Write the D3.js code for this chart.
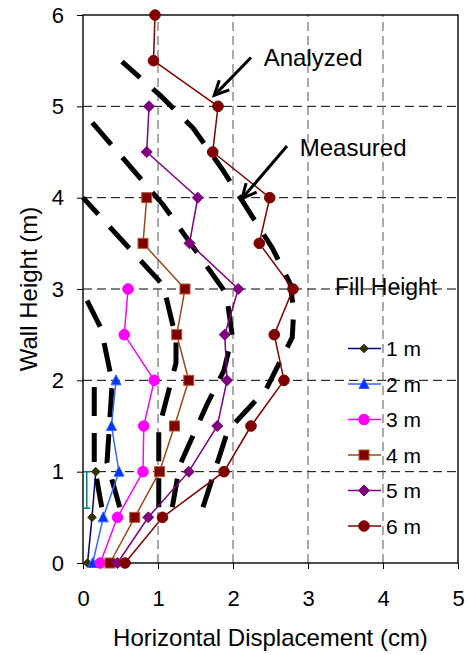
<!DOCTYPE html>
<html>
<head>
<meta charset="utf-8">
<script src="https://cdn.jsdelivr.net/npm/d3@7"></script>
<style>
  html, body { margin: 0; padding: 0; background: #fff; }
  svg { display: block; font-family: 'Liberation Sans', Arial, sans-serif; }
</style>
</head>
<body>
<div id="chart"></div>
<script>
// wall heights (m) where analyzed displacements are reported
const heights = [0, 0.5, 1, 1.5, 2, 2.5, 3, 3.5, 4, 4.5, 5, 5.5, 6];

// analyzed horizontal displacement (cm), one array per fill height
const analyzed1 = [0.06, 0.12, 0.17];
const analyzed2 = [0.13, 0.27, 0.48, 0.38, 0.44];
const analyzed3 = [0.23, 0.46, 0.80, 0.81, 0.95, 0.55, 0.60];
const analyzed4 = [0.36, 0.69, 1.02, 1.22, 1.41, 1.25, 1.36, 0.80, 0.85];
const analyzed5 = [0.46, 0.87, 1.41, 1.79, 1.92, 1.89, 2.07, 1.42, 1.53, 0.85, 0.88];
const analyzed6 = [0.56, 1.06, 1.88, 2.24, 2.68, 2.55, 2.80, 2.35, 2.49, 1.73, 1.80, 0.94, 0.96];

// measured profiles [displacement cm, height m]
const measured1 = [[0.05, 0.6], [0.05, 1.0]];
const measured2 = [[0.25, 0.61], [0.15, 1.07], [0.15, 2.0]];
const measured3 = [[0.49, 0.61], [0.32, 1.10], [0.39, 1.98], [0.24, 2.57], [0, 2.96]];
const measured4 = [[1.01, 0.61], [1.01, 1.47], [1.24, 2.19], [1.24, 2.46], [1.07, 3.04], [0, 4.0]];
const measured5 = [[1.19, 0.61], [1.29, 1.07], [1.65, 1.73], [1.88, 2.11], [1.99, 2.49],
  [1.91, 2.95], [1.07, 3.92], [0, 4.94]];
const measured6 = [[1.60, 0.61], [1.93, 1.45], [2.44, 1.90], [2.79, 2.47], [2.81, 2.77],
  [2.76, 3.06], [2.53, 3.44], [1.85, 4.32], [1.47, 4.76], [1.03, 5.12], [0.52, 5.49]];

const fillLabels = ['1 m', '2 m', '3 m', '4 m', '5 m', '6 m'];
const xTicks = [0, 1, 2, 3, 4, 5];
const yTicks = [0, 1, 2, 3, 4, 5, 6];

const width = 467;
const height = 655;
const margin = { top: 15, right: 9, bottom: 92, left: 83 };

const series = [
  { name: fillLabels[0], values: analyzed1, line: '#000080', fill: '#333300', stroke: '#333300', shape: 'diamondSmall' },
  { name: fillLabels[1], values: analyzed2, line: '#3366FF', fill: '#0033FF', stroke: '#3366FF', shape: 'triangle' },
  { name: fillLabels[2], values: analyzed3, line: '#FF00FF', fill: '#FF00FF', stroke: '#FF00FF', shape: 'circle' },
  { name: fillLabels[3], values: analyzed4, line: '#A0471A', fill: '#800000', stroke: '#B05A2A', shape: 'square' },
  { name: fillLabels[4], values: analyzed5, line: '#800080', fill: '#800080', stroke: '#800080', shape: 'diamond' },
  { name: fillLabels[5], values: analyzed6, line: '#800000', fill: '#800000', stroke: '#800000', shape: 'circle' }
];

const svg = d3.select('#chart')
  .append('svg')
  .attr('width', width)
  .attr('height', height);

/* Scales */
const xScale = d3.scaleLinear()
  .domain([0, 5])
  .range([margin.left, width - margin.right]);

const yScale = d3.scaleLinear()
  .domain([0, 6])
  .range([height - margin.bottom, margin.top]);

/* Grid lines */
svg.append('g')
  .selectAll('line')
  .data(yTicks.slice(1, -1))
  .enter()
  .append('line')
  .attr('x1', xScale(0))
  .attr('x2', xScale(5))
  .attr('y1', d => yScale(d))
  .attr('y2', d => yScale(d))
  .attr('stroke', '#000')
  .attr('stroke-width', 1)
  .attr('stroke-dasharray', '9,5');

svg.append('g')
  .selectAll('line')
  .data(xTicks.slice(1, -1))
  .enter()
  .append('line')
  .attr('x1', d => xScale(d))
  .attr('x2', d => xScale(d))
  .attr('y1', yScale(0))
  .attr('y2', yScale(6))
  .attr('stroke', '#555')
  .attr('stroke-width', 1)
  .attr('stroke-dasharray', '9,5');

/* Axes */
const xAxis = d3.axisBottom(xScale)
  .tickValues(xTicks)
  .tickFormat(d3.format('d'))
  .tickSize(6)
  .tickSizeOuter(0)
  .tickPadding(21);

const yAxis = d3.axisLeft(yScale)
  .tickValues(yTicks)
  .tickFormat(d3.format('d'))
  .tickSize(6)
  .tickSizeOuter(0)
  .tickPadding(13);

const gx = svg.append('g')
  .attr('transform', `translate(0, ${yScale(0)})`)
  .call(xAxis);
gx.select('.domain').remove();
gx.selectAll('text').style('font-size', '22px').attr('fill', '#000');
gx.selectAll('line').attr('stroke', '#000');

const gy = svg.append('g')
  .attr('transform', `translate(${xScale(0)}, 0)`)
  .call(yAxis);
gy.select('.domain').remove();
gy.selectAll('text').style('font-size', '22px').attr('fill', '#000');
gy.selectAll('line').attr('stroke', '#000');

/* Plot frame */
svg.append('rect')
  .attr('x', xScale(0))
  .attr('y', yScale(6))
  .attr('width', xScale(5) - xScale(0))
  .attr('height', yScale(0) - yScale(6))
  .attr('fill', 'none')
  .attr('stroke', '#000')
  .attr('stroke-width', 1.4);

/* Measured profiles (thick dashes) */
const pairLine = d3.line()
  .x(d => xScale(d[0]))
  .y(d => yScale(d[1]));

const measuredDashed = [measured2, measured3, measured4, measured5, measured6];
svg.append('g')
  .selectAll('path')
  .data(measuredDashed)
  .enter()
  .append('path')
  .attr('d', d => pairLine(d))
  .attr('fill', 'none')
  .attr('stroke', '#000')
  .attr('stroke-width', 5)
  .attr('stroke-dasharray', '29,17');

// 1 m measured profile is short, drawn thin with dash markers
const m1 = svg.append('g');
m1.append('path')
  .attr('d', pairLine(measured1))
  .attr('fill', 'none')
  .attr('stroke', '#008080')
  .attr('stroke-width', 1.5);
m1.selectAll('line')
  .data(measured1)
  .enter()
  .append('line')
  .attr('x1', d => xScale(d[0]) - 3.5)
  .attr('x2', d => xScale(d[0]) + 3.5)
  .attr('y1', d => yScale(d[1]))
  .attr('y2', d => yScale(d[1]))
  .attr('stroke', '#008080')
  .attr('stroke-width', 1.5);

/* Analyzed series */
const line = d3.line()
  .x(d => xScale(d))
  .y((d, i) => yScale(heights[i]));

function drawMarker(g, shape, fill, stroke) {
  if (shape === 'circle') {
    g.append('circle').attr('r', 5.3);
  } else if (shape === 'square') {
    g.append('rect').attr('x', -5).attr('y', -5).attr('width', 10).attr('height', 10);
  } else if (shape === 'diamond') {
    g.append('path').attr('d', 'M0,-5.5L5.5,0L0,5.5L-5.5,0Z');
  } else if (shape === 'diamondSmall') {
    g.append('path').attr('d', 'M0,-4.3L4.3,0L0,4.3L-4.3,0Z');
  } else if (shape === 'triangle') {
    g.append('path').attr('d', 'M0,-5.5L5,4.5L-5,4.5Z');
  }
  g.selectAll('*')
    .attr('fill', fill)
    .attr('stroke', stroke)
    .attr('stroke-width', 1);
}

const groups = svg.append('g')
  .selectAll('.series')
  .data(series)
  .enter()
  .append('g')
  .attr('class', 'series');

groups.append('path')
  .attr('d', d => line(d.values))
  .attr('fill', 'none')
  .attr('stroke', d => d.line)
  .attr('stroke-width', 1.5);

groups.each(function(s) {
  d3.select(this)
    .selectAll('.pt')
    .data(s.values)
    .enter()
    .append('g')
    .attr('class', 'pt')
    .attr('transform', (d, i) => `translate(${xScale(d)}, ${yScale(heights[i])})`)
    .each(function() {
      drawMarker(d3.select(this), s.shape, s.fill, s.stroke);
    });
});

/* Annotations */
function arrow(x1, y1, x2, y2) {
  const sx = xScale(x1), sy = yScale(y1);
  const tx = xScale(x2), ty = yScale(y2);
  const ang = Math.atan2(ty - sy, tx - sx);
  const len = 16, spread = 0.45;
  const g = svg.append('g')
    .attr('stroke', '#000')
    .attr('fill', 'none')
    .attr('stroke-width', 3);
  g.append('line')
    .attr('x1', sx).attr('y1', sy)
    .attr('x2', tx).attr('y2', ty);
  g.append('path')
    .attr('d', `M${tx - len * Math.cos(ang - spread)},${ty - len * Math.sin(ang - spread)}` +
      `L${tx},${ty}` +
      `L${tx - len * Math.cos(ang + spread)},${ty - len * Math.sin(ang + spread)}`);
}

arrow(2.24, 5.535, 1.75, 5.12);
arrow(2.72, 4.565, 2.12, 3.99);

svg.append('text')
  .attr('x', xScale(2.41))
  .attr('y', yScale(5.44))
  .style('font-size', '24px')
  .text('Analyzed');

svg.append('text')
  .attr('x', xScale(2.89))
  .attr('y', yScale(4.455))
  .style('font-size', '24px')
  .text('Measured');

/* Legend */
svg.append('text')
  .attr('x', 335)
  .attr('y', 295)
  .style('font-size', '23px')
  .text('Fill Height');

const legend = svg.append('g')
  .selectAll('.legend')
  .data(series)
  .enter()
  .append('g')
  .attr('class', 'legend')
  .attr('transform', (d, i) => `translate(364, ${348.5 + i * 35.5})`);

legend.append('line')
  .attr('x1', -16)
  .attr('x2', 17)
  .attr('stroke', d => d.line)
  .attr('stroke-width', 1.5);

legend.each(function(s) {
  drawMarker(d3.select(this).append('g'), s.shape, s.fill, s.stroke);
});

legend.append('text')
  .attr('x', 22)
  .attr('y', 0)
  .attr('dy', '0.36em')
  .style('font-size', '21px')
  .text(d => d.name);

/* Axis titles */
svg.append('text')
  .attr('x', (xScale(0) + xScale(5)) / 2)
  .attr('y', 646)
  .attr('text-anchor', 'middle')
  .style('font-size', '24px')
  .text('Horizontal Displacement (cm)');

svg.append('text')
  .attr('transform', `translate(37, ${(yScale(0) + yScale(6)) / 2}) rotate(-90)`)
  .attr('text-anchor', 'middle')
  .style('font-size', '24px')
  .text('Wall Height (m)');
</script>
</body>
</html>
